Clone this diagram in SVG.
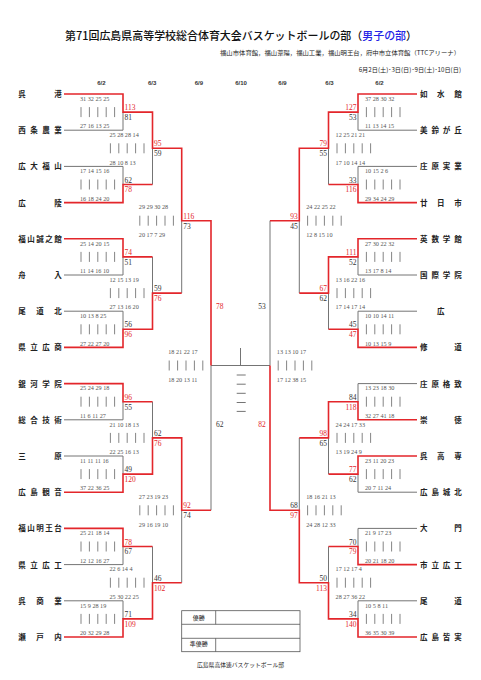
<svg xmlns="http://www.w3.org/2000/svg" xmlns:xlink="http://www.w3.org/1999/xlink" width="481" height="680" viewBox="0 0 481 680">
<style>
.r{stroke:#e3262b;stroke-width:1.6;fill:none}
.g{stroke:#747474;stroke-width:1;fill:none}
.bar{stroke:#777;stroke-width:0.9}
.nm{font-family:"Noto Sans CJK JP","Noto Sans CJK SC",sans-serif;font-size:7.5px;font-weight:bold;fill:#222}
.sc{font-family:"Liberation Serif",serif;font-size:6.2px;fill:#555}
.wl{font-family:"Liberation Serif",serif;font-size:7.5px;fill:#e3262b}
.ll{font-family:"Liberation Serif",serif;font-size:7.5px;fill:#333}
.rt{text-anchor:end}
.dt{font-family:"Liberation Sans",sans-serif;font-size:6px;font-weight:bold;fill:#333;text-anchor:middle}
.jp{font-family:"Noto Sans CJK JP","Noto Sans CJK SC",sans-serif}
</style>
<defs>
<g id="bars" class="bar"><line x1="0" y1="-5" x2="0" y2="5"/><line x1="8.4" y1="-5" x2="8.4" y2="5"/><line x1="16.8" y1="-5" x2="16.8" y2="5"/><line x1="25.2" y1="-5" x2="25.2" y2="5"/><line x1="33.6" y1="-5" x2="33.6" y2="5"/></g>
</defs>
<rect width="481" height="680" fill="#fff"/>
<g id="header">
<text class="jp" x="65" y="40" font-size="11" font-weight="500" fill="#111" textLength="352" lengthAdjust="spacingAndGlyphs">第71回広島県高等学校総合体育大会バスケットボールの部（<tspan fill="#2424e6">男子の部</tspan>）</text>
<text class="jp" x="220" y="55" font-size="6.1" fill="#222" textLength="240" lengthAdjust="spacingAndGlyphs">福山市体育館，福山葦陽，福山工業，福山明王台，府中市立体育館（TTCアリーナ）</text>
<text class="jp" x="461" y="72" font-size="6.2" fill="#222" text-anchor="end">6月2日(土)･3日(日)･9日(土)･10日(日)</text>
</g>
<g id="dates">
<text class="dt" x="101.3" y="84.5">6/2</text>
<text class="dt" x="152.2" y="84.5">6/3</text>
<text class="dt" x="198.8" y="84.5">6/9</text>
<text class="dt" x="241" y="84.5">6/10</text>
<text class="dt" x="282.5" y="84.5">6/9</text>
<text class="dt" x="329.5" y="84.5">6/3</text>
<text class="dt" x="379.5" y="84.5">6/2</text>
</g>
<g id="connectors">
<g class="g">
<path d="M64 130.2H123V112.1M64 166.4H123V184.5M152.5 184.5V148.3M152.5 256.9V293.1M64 275H123V256.9M64 311.2H123V329.3M181.7 293.1V220.7M152.5 401.7V437.9M64 419.8H123V401.7M64 456H123V474.1M211 510.3V365.5M152.5 546.5V582.7M64 564.6H123V546.5M64 600.8H123V618.9M181.7 582.7V510.3"/>
<path d="M270 220.7V365.5M417 130.2H358V112.1M417 166.4H358V184.5M328.5 184.5V148.3M299.3 293.1V220.7M417 275H358V256.9M417 311.2H358V329.3M328.5 329.3V293.1M417 383.6H358V401.7M299.3 437.9V510.3M328.5 474.1V437.9M417 492.2H358V474.1M417 528.4H358V546.5M328.5 546.5V582.7M417 600.8H358V618.9"/>
<path d="M211 365.5H270M240.5 348V365.5"/>
<path d="M236.7 375H245.7M236.7 384.2H245.7M236.7 393.3H245.7M236.7 402.5H245.7M236.7 411.4H245.7"/>
</g>
<g class="r">
<path d="M64 94H123V112.1H152.5V148.3H181.7V220.7H211V365.5"/>
<path d="M64 202.6H123V184.5H152.5"/>
<path d="M64 238.8H123V256.9H152.5"/>
<path d="M64 347.4H123V329.3H152.5V293.1H181.7"/>
<path d="M64 383.6H123V401.7H152.5"/>
<path d="M64 492.2H123V474.1H152.5V437.9H181.7V510.3H211"/>
<path d="M64 528.4H123V546.5H152.5"/>
<path d="M64 637H123V618.9H152.5V582.7H181.7"/>
<path d="M417 94H358V112.1H328.5V148.3H299.3V220.7H270"/>
<path d="M417 202.6H358V184.5H328.5"/>
<path d="M417 238.8H358V256.9H328.5V293.1H299.3"/>
<path d="M417 347.4H358V329.3H328.5"/>
<path d="M417 419.8H358V401.7H328.5V437.9H299.3"/>
<path d="M417 456H358V474.1H328.5"/>
<path d="M417 564.6H358V546.5H328.5"/>
<path d="M417 637H358V618.9H328.5V582.7H299.3V510.3H270V365.5"/>
</g>
</g>
<g id="teams-left" class="nm">
<g id="t-kure-ko"><text x="18.3 54.2" y="97">呉港</text></g>
<g id="t-saijo-nogyo"><text x="18.3 30.3 42.2 54.2" y="133.2">西条農業</text></g>
<g id="t-kodai-fukuyama"><text x="18.3 30.3 42.2 54.2" y="169.4">広大福山</text></g>
<g id="t-koryo"><text x="18.3 54.2" y="205.6">広陵</text></g>
<g id="t-seishikan"><text x="18.3 27.3 36.25 45.2 54.2" y="241.8">福山誠之館</text></g>
<g id="t-funairi"><text x="18.3 54.2" y="278">舟入</text></g>
<g id="t-onomichi-kita"><text x="18.3 36.25 54.2" y="314.2">尾道北</text></g>
<g id="t-kenritsu-hiroshou"><text x="18.3 30.3 42.2 54.2" y="350.4">県立広商</text></g>
<g id="t-ginga"><text x="18.3 30.3 42.2 54.2" y="386.6">銀河学院</text></g>
<g id="t-sogo-gijutsu"><text x="18.3 30.3 42.2 54.2" y="422.8">総合技術</text></g>
<g id="t-mihara"><text x="18.3 54.2" y="459">三原</text></g>
<g id="t-kannon"><text x="18.3 30.3 42.2 54.2" y="495.2">広島観音</text></g>
<g id="t-meiodai"><text x="18.3 27.3 36.25 45.2 54.2" y="531.4">福山明王台</text></g>
<g id="t-kenritsu-hirokou"><text x="18.3 30.3 42.2 54.2" y="567.6">県立広工</text></g>
<g id="t-kure-shogyo"><text x="18.3 36.25 54.2" y="603.8">呉商業</text></g>
<g id="t-setouchi"><text x="18.3 36.25 54.2" y="640">瀬戸内</text></g>
</g>
<g id="teams-right" class="nm">
<g id="t-josuikan"><text x="420 437.1 454.2" y="97">如水館</text></g>
<g id="t-misuzugaoka"><text x="420 431.4 442.8 454.2" y="133.2">美鈴が丘</text></g>
<g id="t-shobara-jitsugyo"><text x="420 431.4 442.8 454.2" y="169.4">庄原実業</text></g>
<g id="t-hatsukaichi"><text x="420 437.1 454.2" y="205.6">廿日市</text></g>
<g id="t-eisu"><text x="420 431.4 442.8 454.2" y="241.8">英数学館</text></g>
<g id="t-kokusai"><text x="420 431.4 442.8 454.2" y="278">国際学院</text></g>
<g id="t-hiro"><text x="437.05" y="314.2">広</text></g>
<g id="t-shudo"><text x="420 454.2" y="350.4">修道</text></g>
<g id="t-shobara-kakuchi"><text x="420 431.4 442.8 454.2" y="386.6">庄原格致</text></g>
<g id="t-sotoku"><text x="420 454.2" y="422.8">崇徳</text></g>
<g id="t-kure-kosen"><text x="420 437.1 454.2" y="459">呉高専</text></g>
<g id="t-johoku"><text x="420 431.4 442.8 454.2" y="495.2">広島城北</text></g>
<g id="t-daimon"><text x="420 454.2" y="531.4">大門</text></g>
<g id="t-shiritsu-hirokou"><text x="420 431.4 442.8 454.2" y="567.6">市立広工</text></g>
<g id="t-onomichi"><text x="420 454.2" y="603.8">尾道</text></g>
<g id="t-minami"><text x="420 431.4 442.8 454.2" y="640">広島皆実</text></g>
</g>
<g id="score-bars">
<use xlink:href="#bars" x="81" y="112.1"/><use xlink:href="#bars" x="81" y="184.5"/><use xlink:href="#bars" x="81" y="256.9"/><use xlink:href="#bars" x="81" y="329.3"/><use xlink:href="#bars" x="81" y="401.7"/><use xlink:href="#bars" x="81" y="474.1"/><use xlink:href="#bars" x="81" y="546.5"/><use xlink:href="#bars" x="81" y="618.9"/>
<use xlink:href="#bars" x="110.4" y="148.3"/><use xlink:href="#bars" x="110.4" y="293.1"/><use xlink:href="#bars" x="110.4" y="437.9"/><use xlink:href="#bars" x="110.4" y="582.7"/>
<use xlink:href="#bars" x="139.8" y="220.7"/><use xlink:href="#bars" x="139.8" y="510.3"/>
<use xlink:href="#bars" x="169.2" y="365.5"/><use xlink:href="#bars" x="278.2" y="365.5"/>
<use xlink:href="#bars" x="307.6" y="220.7"/><use xlink:href="#bars" x="307.6" y="510.3"/>
<use xlink:href="#bars" x="337" y="148.3"/><use xlink:href="#bars" x="337" y="293.1"/><use xlink:href="#bars" x="337" y="437.9"/><use xlink:href="#bars" x="337" y="582.7"/>
<use xlink:href="#bars" x="366.4" y="112.1"/><use xlink:href="#bars" x="366.4" y="184.5"/><use xlink:href="#bars" x="366.4" y="256.9"/><use xlink:href="#bars" x="366.4" y="329.3"/><use xlink:href="#bars" x="366.4" y="401.7"/><use xlink:href="#bars" x="366.4" y="474.1"/><use xlink:href="#bars" x="366.4" y="546.5"/><use xlink:href="#bars" x="366.4" y="618.9"/>
</g>
<g id="period-scores" class="sc">
<text x="80" y="100.8">31 32 25 25</text><text x="80" y="128.3">27 16 13 25</text>
<text x="80" y="173.2">17 14 15 16</text><text x="80" y="200.7">16 18 24 20</text>
<text x="80" y="245.6">25 14 20 15</text><text x="80" y="273.1">11 14 16 10</text>
<text x="80" y="318">10 13 8 25</text><text x="80" y="345.5">27 22 27 20</text>
<text x="80" y="390.4">25 24 29 18</text><text x="80" y="417.9">11 6 11 27</text>
<text x="80" y="462.8">11 11 11 16</text><text x="80" y="490.3">37 22 36 25</text>
<text x="80" y="535.2">25 21 18 14</text><text x="80" y="562.7">12 12 16 27</text>
<text x="80" y="607.6">15 9 28 19</text><text x="80" y="635.1">20 32 29 28</text>
<text x="109.4" y="137">25 28 28 14</text><text x="109.4" y="164.5">28 10 8 13</text>
<text x="109.4" y="281.8">12 15 13 19</text><text x="109.4" y="309.3">27 13 16 20</text>
<text x="109.4" y="426.6">21 10 18 13</text><text x="109.4" y="454.1">22 25 16 13</text>
<text x="109.4" y="571.4">22 6 14 4</text><text x="109.4" y="598.9">25 30 22 25</text>
<text x="138.8" y="209.4">29 29 30 28</text><text x="138.8" y="236.9">20 17 7 29</text>
<text x="138.8" y="499">27 23 19 23</text><text x="138.8" y="526.5">29 16 19 10</text>
<text x="168.2" y="354.2">18 21 22 17</text><text x="168.2" y="381.7">18 20 13 11</text>
<text x="276.8" y="354.2">13 13 10 17</text><text x="276.8" y="381.7">17 12 38 15</text>
<text x="306.2" y="209.4">24 22 25 22</text><text x="306.2" y="236.9">12 8 15 10</text>
<text x="306.2" y="499">18 16 21 13</text><text x="306.2" y="526.5">24 28 12 33</text>
<text x="335.6" y="137">12 25 21 21</text><text x="335.6" y="164.5">17 10 14 14</text>
<text x="335.6" y="281.8">13 16 22 16</text><text x="335.6" y="309.3">17 14 17 14</text>
<text x="335.6" y="426.6">24 24 17 33</text><text x="335.6" y="454.1">13 19 24 9</text>
<text x="335.6" y="571.4">17 12 17 4</text><text x="335.6" y="598.9">28 27 36 22</text>
<text x="365" y="100.8">37 28 30 32</text><text x="365" y="128.3">11 13 14 15</text>
<text x="365" y="173.2">10 15 2 6</text><text x="365" y="200.7">29 34 24 29</text>
<text x="365" y="245.6">27 30 22 32</text><text x="365" y="273.1">13 17 8 14</text>
<text x="365" y="318">10 10 14 11</text><text x="365" y="345.5">10 13 15 9</text>
<text x="365" y="390.4">13 23 18 30</text><text x="365" y="417.9">32 27 41 18</text>
<text x="365" y="462.8">23 11 20 23</text><text x="365" y="490.3">20 7 11 24</text>
<text x="365" y="535.2">21 9 17 23</text><text x="365" y="562.7">20 21 18 20</text>
<text x="365" y="607.6">10 5 8 11</text><text x="365" y="635.1">36 35 30 39</text>
</g>
<g id="match-scores">
<text class="wl" x="124.5" y="110.1">113</text><text class="ll" x="124.5" y="119.9">81</text>
<text class="ll" x="124.5" y="182.5">62</text><text class="wl" x="124.5" y="192.3">78</text>
<text class="wl" x="124.5" y="254.9">74</text><text class="ll" x="124.5" y="264.7">51</text>
<text class="ll" x="124.5" y="327.3">56</text><text class="wl" x="124.5" y="337.1">96</text>
<text class="wl" x="124.5" y="399.7">96</text><text class="ll" x="124.5" y="409.5">55</text>
<text class="ll" x="124.5" y="472.1">49</text><text class="wl" x="124.5" y="481.9">120</text>
<text class="wl" x="124.5" y="544.5">78</text><text class="ll" x="124.5" y="554.3">67</text>
<text class="ll" x="124.5" y="616.9">71</text><text class="wl" x="124.5" y="626.7">109</text>
<text class="wl" x="154" y="146.3">95</text><text class="ll" x="154" y="156.1">59</text>
<text class="ll" x="154" y="291.1">59</text><text class="wl" x="154" y="300.9">76</text>
<text class="ll" x="154" y="435.9">62</text><text class="wl" x="154" y="445.7">76</text>
<text class="ll" x="154" y="580.7">46</text><text class="wl" x="154" y="590.5">102</text>
<text class="wl" x="183.2" y="218.7">116</text><text class="ll" x="183.2" y="228.5">73</text>
<text class="wl" x="183.2" y="508.3">92</text><text class="ll" x="183.2" y="518.1">74</text>
<text class="wl" x="219.7" y="309.3" text-anchor="middle">78</text><text class="ll" x="262" y="309.3" text-anchor="middle">53</text>
<text class="ll" x="219.7" y="427" text-anchor="middle">62</text><text class="wl" x="262" y="427" text-anchor="middle">82</text>
<text class="wl rt" x="356.5" y="110.1">127</text><text class="ll rt" x="356.5" y="119.9">53</text>
<text class="ll rt" x="356.5" y="182.5">33</text><text class="wl rt" x="356.5" y="192.3">116</text>
<text class="wl rt" x="356.5" y="254.9">111</text><text class="ll rt" x="356.5" y="264.7">52</text>
<text class="ll rt" x="356.5" y="327.3">45</text><text class="wl rt" x="356.5" y="337.1">47</text>
<text class="ll rt" x="356.5" y="399.7">84</text><text class="wl rt" x="356.5" y="409.5">118</text>
<text class="wl rt" x="356.5" y="472.1">77</text><text class="ll rt" x="356.5" y="481.9">62</text>
<text class="ll rt" x="356.5" y="544.5">70</text><text class="wl rt" x="356.5" y="554.3">79</text>
<text class="ll rt" x="356.5" y="616.9">34</text><text class="wl rt" x="356.5" y="626.7">140</text>
<text class="wl rt" x="327" y="146.3">79</text><text class="ll rt" x="327" y="156.1">55</text>
<text class="wl rt" x="327" y="291.1">67</text><text class="ll rt" x="327" y="300.9">62</text>
<text class="wl rt" x="327" y="435.9">98</text><text class="ll rt" x="327" y="445.7">65</text>
<text class="ll rt" x="327" y="580.7">50</text><text class="wl rt" x="327" y="590.5">113</text>
<text class="wl rt" x="297.8" y="218.7">93</text><text class="ll rt" x="297.8" y="228.5">45</text>
<text class="ll rt" x="297.8" y="508.3">68</text><text class="wl rt" x="297.8" y="518.1">97</text>
</g>
<g id="result-box">
<rect x="181.7" y="610.7" width="118.3" height="41" fill="none" stroke="#555" stroke-width="0.8"/>
<path d="M181.7 624.3H300M181.7 638.3H300M215.7 610.7V624.3M215.7 638.3V651.7" fill="none" stroke="#555" stroke-width="0.8"/>
<text class="jp" x="198.7" y="619.7" font-size="6" fill="#222" text-anchor="middle">優勝</text>
<text class="jp" x="198.7" y="646.3" font-size="6" fill="#222" text-anchor="middle">準優勝</text>
</g>
<g id="footer">
<text class="jp" x="240.5" y="666.7" font-size="5.8" fill="#222" text-anchor="middle">広島県高体連バスケットボール部</text>
</g>
</svg>
